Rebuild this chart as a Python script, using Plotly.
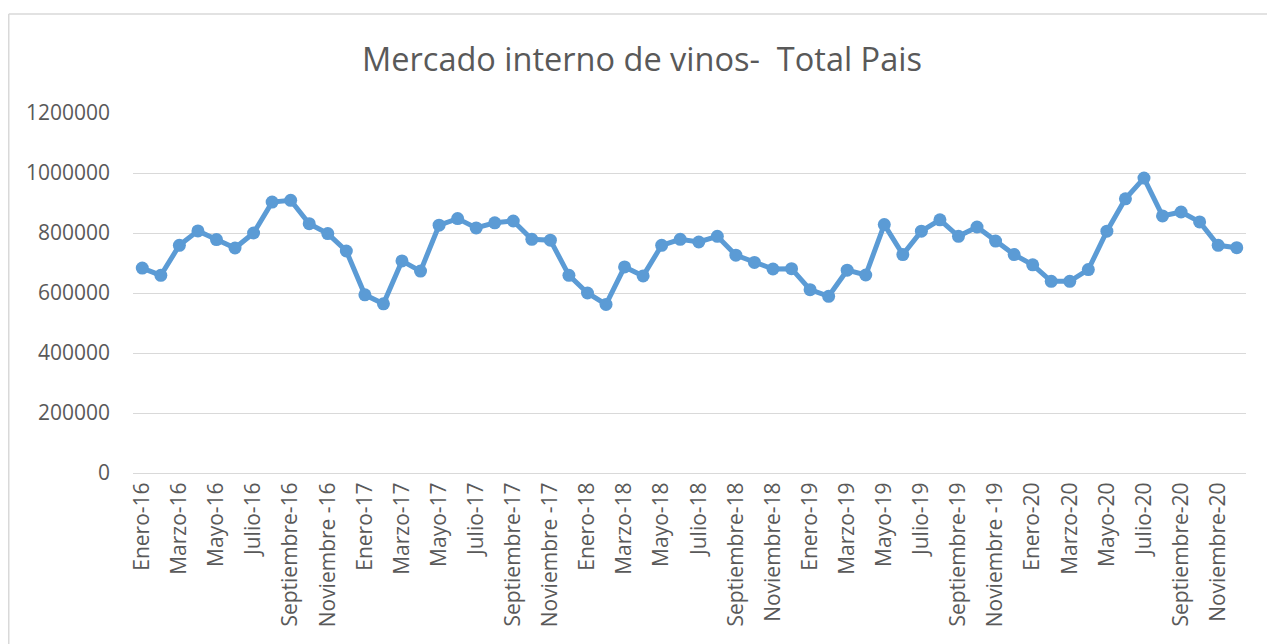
import plotly.graph_objects as go

categorias = [
    "Enero-16", "Febrero-16", "Marzo-16", "Abril-16", "Mayo-16", "Junio-16",
    "Julio-16", "Agosto-16", "Septiembre-16", "Octubre-16", "Noviembre -16", "Diciembre-16",
    "Enero-17", "Febrero-17", "Marzo-17", "Abril-17", "Mayo-17", "Junio-17",
    "Julio-17", "Agosto-17", "Septiembre-17", "Octubre-17", "Noviembre -17", "Diciembre-17",
    "Enero-18", "Febrero-18", "Marzo-18", "Abril-18", "Mayo-18", "Junio-18",
    "Julio-18", "Agosto-18", "Septiembre-18", "Octubre-18", "Noviembre-18", "Diciembre-18",
    "Enero-19", "Febrero-19", "Marzo-19", "Abril-19", "Mayo-19", "Junio-19",
    "Julio-19", "Agosto-19", "Septiembre-19", "Octubre-19", "Noviembre -19", "Diciembre-19",
    "Enero-20", "Febrero-20", "Marzo-20", "Abril-20", "Mayo-20", "Junio-20",
    "Julio-20", "Agosto-20", "Septiembre-20", "Octubre-20", "Noviembre-20", "Diciembre-20",
]

valores = [
    683000, 659000, 759000, 807000, 778000, 750000,
    800000, 903000, 909000, 831000, 798000, 740000,
    594000, 564000, 707000, 673000, 826000, 848000,
    817000, 834000, 840000, 779000, 776000, 659000,
    600000, 562000, 687000, 657000, 759000, 779000,
    770000, 789000, 726000, 702000, 680000, 681000,
    611000, 589000, 676000, 660000, 828000, 728000,
    806000, 844000, 789000, 820000, 773000, 728000,
    694000, 639000, 639000, 678000, 806000, 914000,
    983000, 857000, 870000, 837000, 759000, 751000,
]

etiquetas_visibles = categorias[::2]
ticks_y = [0, 200000, 400000, 600000, 800000, 1000000, 1200000]

titulo = "Mercado interno de vinos-  Total Pais"

GRIS_TEXTO = "#595959"
GRIS_LINEA = "#d9d9d9"
AZUL = "#5b9bd5"
FUENTE = "Open Sans"

fig = go.Figure()
fig.add_trace(go.Scatter(
    x=categorias, y=valores, mode="lines+markers",
    line=dict(color=AZUL, width=5),
    marker=dict(color=AZUL, size=13),
    showlegend=False,
))

# figure fills the whole window (body margin removed below)
W, H = 1267, 644
L, T = 133, 113
R = W - 1246
B = H - 473
pw, ph = W - L - R, H - T - B

bx = (8.75 - L) / pw          # left border, in paper units
by = 1 + (T - 14) / ph        # top border, in paper units

fig.update_layout(
    width=W, height=H,
    margin=dict(l=L, r=R, t=T, b=B, autoexpand=False),
    paper_bgcolor="white", plot_bgcolor="white",
    font=dict(family=FUENTE, color=GRIS_TEXTO),
    title=dict(text=titulo, x=(642 - L) / pw, xref="paper", xanchor="center",
               y=1 - 60 / H, yanchor="middle",
               font=dict(family=FUENTE, size=32.5, color=GRIS_TEXTO)),
    xaxis=dict(
        type="category", categoryorder="array", categoryarray=categorias,
        tickmode="array", tickvals=etiquetas_visibles, ticktext=etiquetas_visibles,
        tickangle=-90, tickfont=dict(family=FUENTE, size=21, color=GRIS_TEXTO),
        showgrid=False, showline=True, linecolor=GRIS_LINEA, linewidth=1,
        ticks="", zeroline=False, range=[-0.5, len(categorias) - 0.5],
        automargin=False,
    ),
    yaxis=dict(
        range=[0, 1200000], tickmode="array", tickvals=ticks_y,
        ticktext=[str(v) for v in ticks_y],
        tickfont=dict(family=FUENTE, size=21, color=GRIS_TEXTO),
        showgrid=True, gridcolor=GRIS_LINEA, gridwidth=1,
        zeroline=False, showline=False, ticks="",
        ticklabelstandoff=22, automargin=False,
    ),
    shapes=[
        dict(type="line", xref="paper", yref="paper",
             x0=bx, x1=bx, y0=-1.0, y1=by,
             line=dict(color=GRIS_LINEA, width=1.5), layer="below"),
        dict(type="line", xref="paper", yref="paper",
             x0=bx, x1=1.2, y0=by, y1=by,
             line=dict(color=GRIS_LINEA, width=1.5), layer="below"),
    ],
)

fig.write_html(
    "out.html",
    config={"displayModeBar": False},
    post_script="document.body.style.margin='0';document.body.style.overflow='hidden';",
)
